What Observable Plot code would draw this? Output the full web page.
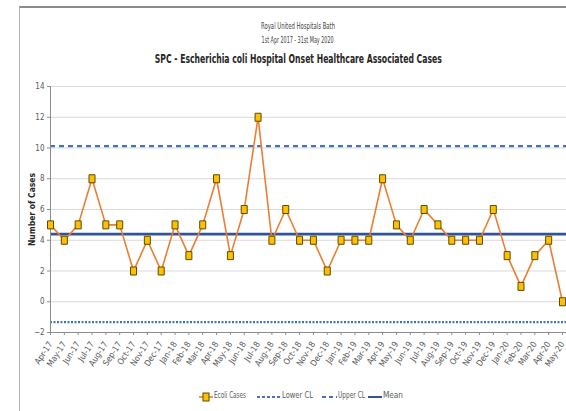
<!DOCTYPE html>
<html>
<head>
<meta charset="utf-8">
<script src="https://cdn.jsdelivr.net/npm/d3@7"></script>
<script src="https://cdn.jsdelivr.net/npm/@observablehq/plot@0.6"></script>
<style>
  html, body { margin: 0; padding: 0; background: #fff; overflow: hidden; width: 566px; height: 411px; }
  body { position: relative; font-family: "Liberation Sans Narrow", "DejaVu Sans Condensed", "Liberation Sans", sans-serif; color: #595959; }
  #frame { position: absolute; left: 19px; top: 6px; width: 600px; height: 420px; border-top: 2px solid #8c8c8c; border-left: 1px solid #b5b5b5; }
  .t { position: absolute; left: 19px; width: 558px; text-align: center; white-space: nowrap; }
  .t span { display: inline-block; transform-origin: center; }
  #l1 { top: 22px; font-size: 8px; color: #404040; }
  #l2 { top: 36px; font-size: 8px; color: #404040; }
  #l3 { top: 51px; font-size: 13px; font-weight: bold; color: #262626; }
  #chart { position: absolute; left: 0; top: 72px; }
  #legend { position: absolute; top: 392px; left: 0; width: 566px; height: 12px; font-size: 8px; color: #595959; }
  .item { position: absolute; top: 0; height: 10px; }
  .item svg { position: absolute; left: 0; top: 0; }
  .item span { position: absolute; top: -1px; display: inline-block; white-space: nowrap; transform-origin: left center; }
</style>
</head>
<body>
<div id="frame"></div>
<div class="t" id="l1"><span>Royal United Hospitals Bath</span></div>
<div class="t" id="l2"><span>1st Apr 2017 - 31st May 2020</span></div>
<div class="t" id="l3"><span>SPC - Escherichia coli Hospital Onset Healthcare Associated Cases</span></div>
<div id="chart"></div>
<div id="legend"></div>
<script>
// ---- data ----
const months = ["Apr-17","May-17","Jun-17","Jul-17","Aug-17","Sep-17","Oct-17","Nov-17","Dec-17",
  "Jan-18","Feb-18","Mar-18","Apr-18","May-18","Jun-18","Jul-18","Aug-18","Sep-18","Oct-18","Nov-18","Dec-18",
  "Jan-19","Feb-19","Mar-19","Apr-19","May-19","Jun-19","Jul-19","Aug-19","Sep-19","Oct-19","Nov-19","Dec-19",
  "Jan-20","Feb-20","Mar-20","Apr-20","May-20"];
const ecoliCases = [5,4,5,8,5,5,2,4,2,
  5,3,5,8,3,6,12,4,6,4,4,2,
  4,4,4,8,5,4,6,5,4,4,4,6,
  3,1,3,4,0];
const meanValue = [4.4];
const upperCL = [10.12];
const lowerCL = [-1.32];
const yTicks = [-2,0,2,4,6,8,10,12,14];
const gridTicks = [0,2,4,6,8,10,12,14];
const legendLabels = ["Ecoli Cases","Lower CL","Upper CL","Mean"];

const data = months.map((m, i) => ({month: m, value: ecoliCases[i]}));

const orange = "#ED7D31";
const blue = "#2F5597";
const dashBlue = "#4472C4";

// rectangular marker symbol (taller than wide)
const rectSymbol = { draw(ctx, size) { ctx.moveTo(-3, -4); ctx.lineTo(3, -4); ctx.lineTo(3, 4); ctx.lineTo(-3, 4); ctx.closePath(); } };

const fontFam = '"Liberation Sans Narrow", "DejaVu Sans Condensed", "Liberation Sans", sans-serif';

const chart = Plot.plot({
  width: 566,
  height: 310,
  marginTop: 14,
  marginBottom: 50,
  marginLeft: 50,
  marginRight: 0,
  style: { fontFamily: fontFam, fontSize: "8px", color: "#595959", background: "transparent", overflow: "visible" },
  x: { type: "point", domain: months, range: [50, 562], padding: 0, round: false },
  y: { domain: [-2, 14], ticks: yTicks },
  marks: [
    Plot.gridY(gridTicks, { stroke: "#d9d9d9", strokeOpacity: 1, strokeWidth: 1 }),
    Plot.ruleY(lowerCL, { stroke: dashBlue, strokeWidth: 2.2, strokeDasharray: "2,1.5" }),
    Plot.ruleY(upperCL, { stroke: dashBlue, strokeWidth: 2.2, strokeDasharray: "5,4" }),
    Plot.ruleY(meanValue, { stroke: blue, strokeWidth: 2.6 }),
    Plot.ruleY([-2], { stroke: "#8c8c8c", strokeWidth: 1 }),
    Plot.axisY({ ticks: yTicks, tickSize: 3, tickPadding: 3, stroke: "#8c8c8c", fontSize: 8, label: "Number of Cases", labelAnchor: "center", labelArrow: "none", labelOffset: 22 }),
    Plot.axisX({ tickSize: 3, tickPadding: 7, tickRotate: -57, stroke: "#8c8c8c", fontSize: 8.5, label: null }),
    Plot.frame({ anchor: "left", stroke: "#8c8c8c" }),
    Plot.line(data, { x: "month", y: "value", stroke: orange, strokeWidth: 1.6 }),
    Plot.dot(data, { x: "month", y: "value", symbol: rectSymbol, fill: "#FFC000", stroke: "#5b4a00", strokeWidth: 1, r: 4 })
  ]
});
document.getElementById("chart").appendChild(chart);

// style y label bold
chart.querySelectorAll("g[aria-label='y-axis label'] text").forEach(t => {
  t.setAttribute("font-weight", "bold");
  t.setAttribute("font-size", "8.5");
  t.setAttribute("fill", "#262626");
});

// ---- legend ----
const legend = d3.select("#legend");
const items = [
  { label: legendLabels[0], x: 199, sw: 14, tw: 32, kind: "series" },
  { label: legendLabels[1], x: 257, sw: 24, tw: 31, kind: "lcl" },
  { label: legendLabels[2], x: 322, sw: 15, tw: 27, kind: "ucl" },
  { label: legendLabels[3], x: 368, sw: 14, tw: 20, kind: "mean" }
];
items.forEach(it => {
  const div = legend.append("div").attr("class", "item").style("left", it.x + "px");
  const svg = div.append("svg").attr("width", it.sw).attr("height", 10);
  if (it.kind === "series") {
    svg.append("line").attr("x1", 0).attr("x2", 14).attr("y1", 5).attr("y2", 5).attr("stroke", orange).attr("stroke-width", 1.6);
    svg.append("rect").attr("x", 4).attr("y", 1).attr("width", 6).attr("height", 8).attr("fill", "#FFC000").attr("stroke", "#5b4a00");
  } else if (it.kind === "lcl") {
    svg.append("line").attr("x1", 0).attr("x2", it.sw).attr("y1", 5).attr("y2", 5).attr("stroke", dashBlue).attr("stroke-width", 2).attr("stroke-dasharray", "3,2");
  } else if (it.kind === "ucl") {
    svg.append("line").attr("x1", 0).attr("x2", it.sw).attr("y1", 5).attr("y2", 5).attr("stroke", dashBlue).attr("stroke-width", 2).attr("stroke-dasharray", "4,3");
  } else {
    svg.append("line").attr("x1", 0).attr("x2", it.sw).attr("y1", 5).attr("y2", 5).attr("stroke", blue).attr("stroke-width", 2);
  }
  const span = div.append("span").style("left", (it.sw + 1) + "px").text(it.label).node();
  const w = span.getBoundingClientRect().width;
  if (w > 0) span.style.transform = "scaleX(" + (it.tw / w) + ")";
});

// fit title widths to reference widths
function fit(id, target) {
  const s = document.querySelector("#" + id + " span");
  const w = s.getBoundingClientRect().width;
  if (w > 0) s.style.transform = "scaleX(" + (target / w) + ")";
}
fit("l1", 74);
fit("l2", 72);
fit("l3", 287);
</script>
</body>
</html>
